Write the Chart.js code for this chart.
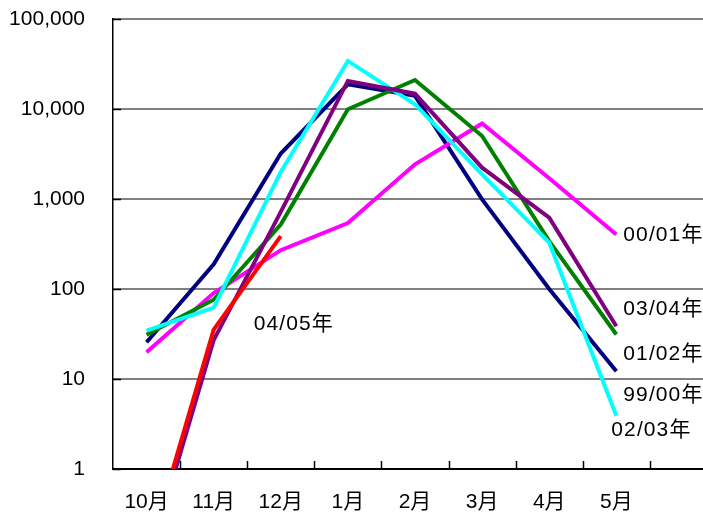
<!DOCTYPE html>
<html lang="ja">
<head>
<meta charset="utf-8">
<title>季節別 月別推移</title>
<script src="https://cdn.jsdelivr.net/npm/chart.js@4/dist/chart.umd.min.js"></script>
<style>
  html, body { margin: 0; padding: 0; background: #fff; overflow: hidden; }
  #wrap { width: 720px; height: 515px; }
</style>
</head>
<body>
<div id="wrap"><canvas id="c" width="720" height="515"></canvas></div>
<script>
// Months of the season (the last slot is an empty category)
const categories = ['10月', '11月', '12月', '1月', '2月', '3月', '4月', '5月', ''];

// Season names
const seasons = ['99/00年', '00/01年', '01/02年', '02/03年', '03/04年', '04/05年'];

// Monthly values per season
const s9900 = [25.6, 188, 3200, 18800, 14000, 990, 100, 12.2];
const s0001 = [19.8, 90, 270, 540, 2430, 6900, 1700, 404];
const s0102 = [31, 76, 521, 9930, 21000, 5010, 340, 31.2];
const s0203 = [34.5, 62, 2000, 34200, 11300, 1880, 327, 3.9];
const s0304 = [0.08, 27, 720, 20500, 14800, 2230, 620, 38.6];
const s0405 = [0.1, 35.4, 387];

// Y axis tick values
const yTicks = [1, 10, 100, 1000, 10000, 100000];

const seriesValues = [s9900, s0001, s0102, s0203, s0304, s0405];
const seriesColors = ['#000080', '#FF00FF', '#008000', '#00FFFF', '#800080', '#FF0000'];

// Where each season name sits relative to the last point of its line
const labelOffsets = [
  { dx: 7, dy: 24 },
  { dx: 7, dy: 1 },
  { dx: 7, dy: 20 },
  { dx: -5, dy: 14 },
  { dx: 7, dy: -17 },
  { dx: -27, dy: 88 }
];

const FONT = '"Liberation Sans", Arial, "Noto Sans CJK JP", sans-serif';
const FONT_SIZE = 21;

const innerTicks = {
  id: 'innerTicks',
  beforeDatasetsDraw(chart) {
    const { ctx, chartArea } = chart;
    const xs = chart.scales.x;
    const ys = chart.scales.y;
    ctx.save();
    ctx.strokeStyle = '#000';
    ctx.lineWidth = 1.5;
    ctx.beginPath();
    // y ticks pointing into the plot
    yTicks.forEach(v => {
      const y = Math.round(ys.getPixelForValue(v)) + 0.5;
      ctx.moveTo(chartArea.left, y);
      ctx.lineTo(chartArea.left + 8, y);
    });
    // x ticks at category boundaries, pointing up
    const n = categories.length;
    const w = (chartArea.right - chartArea.left) / n;
    for (let i = 1; i < n; i++) {
      const x = Math.round(xs.left + i * w) + 0.5;
      ctx.moveTo(x, chartArea.bottom);
      ctx.lineTo(x, chartArea.bottom - 8);
    }
    ctx.stroke();
    ctx.restore();
  }
};

const seasonLabels = {
  id: 'seasonLabels',
  afterDatasetsDraw(chart) {
    const { ctx } = chart;
    ctx.save();
    ctx.font = FONT_SIZE + 'px ' + FONT;
    ctx.fillStyle = '#000';
    ctx.textAlign = 'left';
    ctx.textBaseline = 'middle';
    if ('letterSpacing' in ctx) ctx.letterSpacing = '1.1px';
    chart.data.datasets.forEach((ds, i) => {
      const meta = chart.getDatasetMeta(i);
      const pts = meta.data;
      const last = pts[pts.length - 1];
      const off = labelOffsets[i];
      ctx.fillText(ds.label, last.x + off.dx, last.y + off.dy);
    });
    ctx.restore();
  }
};

const datasets = seasons.map((name, i) => ({
  label: name,
  data: seriesValues[i],
  borderColor: seriesColors[i],
  backgroundColor: seriesColors[i],
  borderWidth: 4,
  pointRadius: 0,
  pointHoverRadius: 0,
  tension: 0,
  fill: false,
  clip: 0,
  order: seasons.length - i
}));

new Chart(document.getElementById('c'), {
  type: 'line',
  data: { labels: categories, datasets },
  plugins: [innerTicks, seasonLabels],
  options: {
    responsive: false,
    animation: false,
    events: [],
    layout: { padding: { top: 19, right: 3, left: 0, bottom: 0 } },
    plugins: {
      legend: { display: false },
      tooltip: { enabled: false }
    },
    scales: {
      x: {
        type: 'category',
        offset: true,
        grid: { drawOnChartArea: false, drawTicks: false },
        border: { display: true, color: '#000', width: 2 },
        ticks: {
          color: '#000',
          font: { family: FONT, size: FONT_SIZE },
          padding: 21,
          maxRotation: 0,
          autoSkip: false
        },
        afterFit(scale) { scale.height = 46; }
      },
      y: {
        type: 'logarithmic',
        min: 1,
        max: 100000,
        afterBuildTicks(scale) {
          scale.ticks = yTicks.map(v => ({ value: v }));
        },
        grid: {
          drawTicks: true,
          tickLength: 28,
          tickColor: 'rgba(0,0,0,0)',
          color: ctx => (ctx.tick && ctx.tick.value === 1) ? 'rgba(0,0,0,0)' : '#808080',
          lineWidth: 2
        },
        border: { display: true, color: '#000', width: 1.5 },
        ticks: {
          color: '#000',
          font: { family: FONT, size: FONT_SIZE },
          padding: 0,
          callback: v => Number(v).toLocaleString('en-US')
        },
        afterFit(scale) { scale.width = 113; }
      }
    }
  }
});
</script>
</body>
</html>
